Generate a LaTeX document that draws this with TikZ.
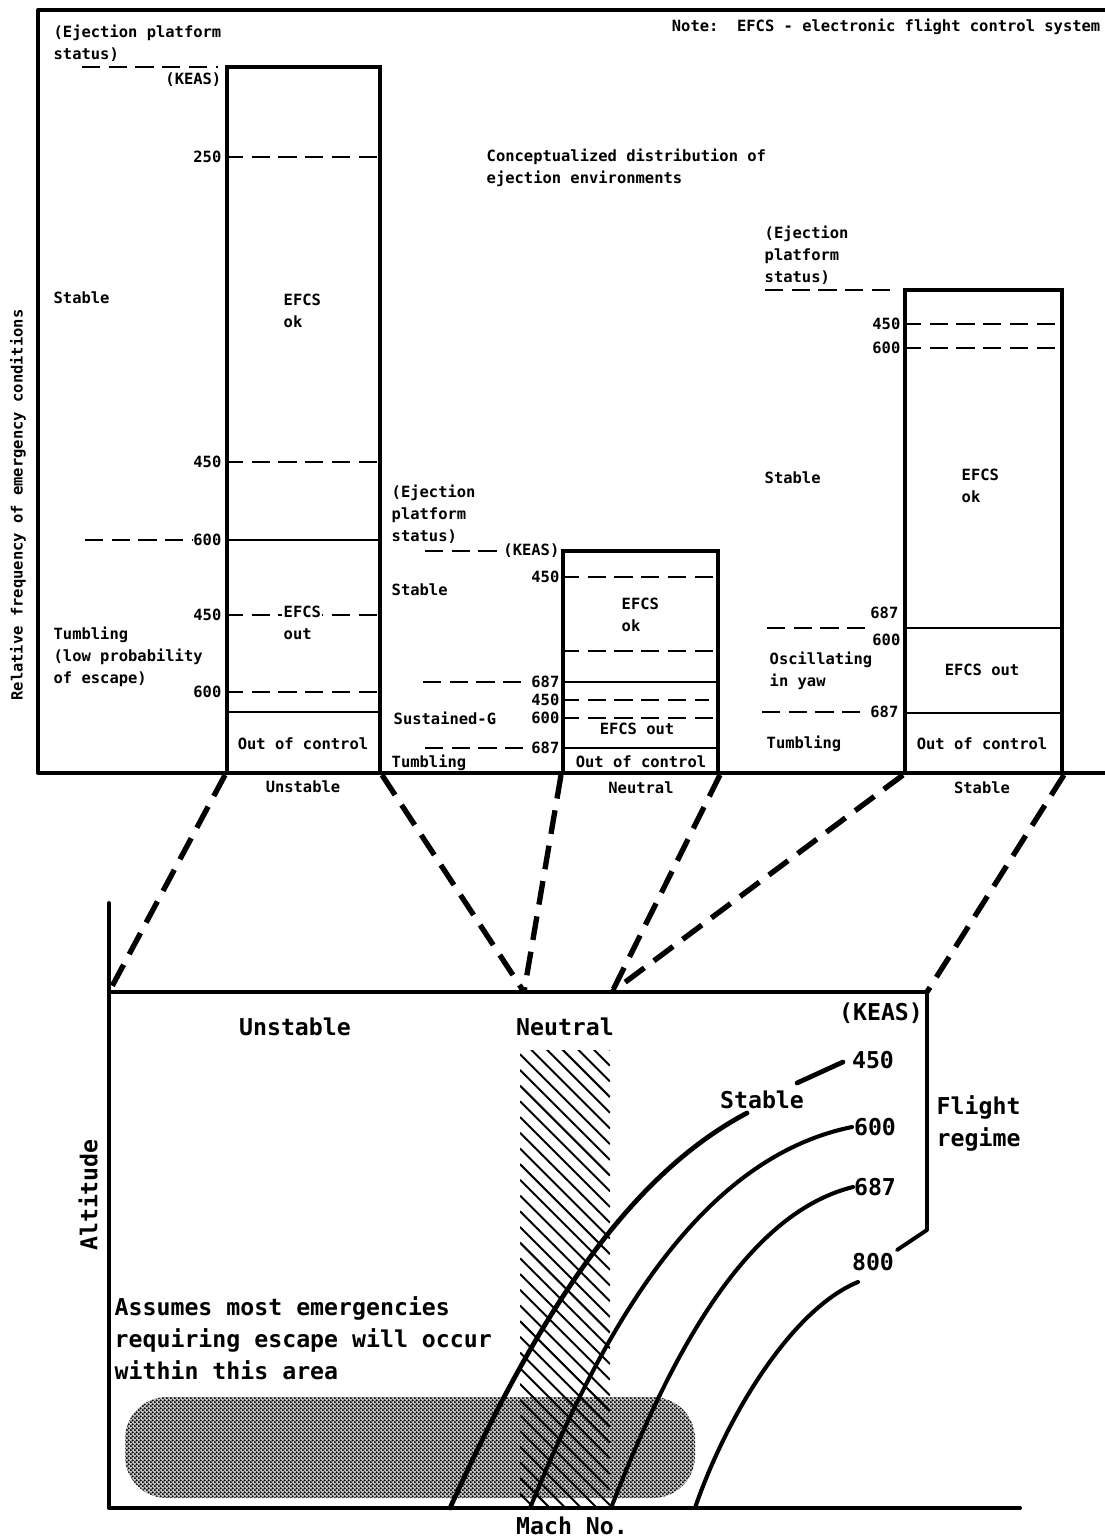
\documentclass[tikz,border=0pt]{standalone}
\usepackage{fontspec}
\setmainfont{DejaVu Sans Mono}
\usepackage{tikz}
\usetikzlibrary{patterns, fit, positioning, calc}
\pgfdeclarepatternformonly{halftone}{\pgfqpoint{0pt}{0pt}}{\pgfqpoint{3pt}{3pt}}{\pgfqpoint{3pt}{3pt}}{%
  \pgfpathcircle{\pgfqpoint{0.75pt}{0.75pt}}{0.95pt}%
  \pgfpathcircle{\pgfqpoint{2.25pt}{2.25pt}}{0.95pt}%
  \pgfusepath{fill}}
\tikzset{
  frame/.style     = {line width=2.8pt, line cap=round, line join=round},
  envbox/.style    = {draw, rectangle, line width=2.8pt, inner sep=0pt},
  split/.style     = {line width=1.9pt},
  splitdash/.style = {split, dash pattern=on 13pt off 6pt},
  lead/.style      = {line width=1.9pt, dash pattern=on 13pt off 6pt},
  link/.style      = {line width=3.8pt, dash pattern=on 17pt off 8.5pt},
  lbl/.style       = {font=\fontsize{11}{15.5}\selectfont\bfseries, inner sep=1pt},
  tag/.style       = {lbl, anchor=east},
  txt/.style       = {lbl, anchor=west, align=left},
  big/.style       = {font=\fontsize{16.5}{22.8}\selectfont\bfseries, inner sep=1pt},
  bigtxt/.style    = {big, anchor=west, align=left},
  curve/.style     = {line width=2.9pt, line cap=round},
  hatch/.style     = {line width=1.4pt},
}
\begin{document}
\begin{tikzpicture}[x=0.025cm, y=-0.025cm]
  \useasboundingbox (0,0) rectangle (1105,1540);

  % upper panel: distribution of ejection environments
  \draw[frame] (1105,10) -- (38,10) -- (38,773) -- (1105,773);
  \node[lbl, rotate=90] (freq) at (18,505) {Relative frequency of emergency conditions};
  \node[tag] (note) at (1102,27) {Note:\ \ EFCS - electronic flight control system};
  \node[txt] (concept) at (485,168) {Conceptualized distribution of\\ejection environments};

  % unstable column
  \coordinate (uTop) at (227,67);
  \coordinate (uBot) at (380,773);
  \node[envbox, fit=(uTop)(uBot)] (unst) {};
  \foreach \yy/\ls in {157/splitdash, 462/splitdash, 540/split, 692/splitdash, 712/split}
    \draw[\ls] (unst.west |- 0,\yy) -- (unst.east |- 0,\yy);
  \draw[splitdash] (unst.west |- 0,615) -- (unst.east |- 0,615);
  \node[txt] (uPlat) at (52,43) {(Ejection platform\\status)};
  \draw[lead] (82,67) -- (218,67);
  \node[tag] (uKeas) at (223,80) {(KEAS)};
  \node[tag] (u250) at (223,157) {250};
  \node[txt] (uStab) at (52,298) {Stable};
  \node[txt] (uOk) at (282,311) {EFCS\\ok};
  \node[tag] (u450a) at (223,462) {450};
  \draw[lead] (85,540) -- (193,540);
  \node[tag] (u600a) at (223,540) {600};
  \node[tag] (u450b) at (223,615) {450};
  \node[txt, fill=white] (uOut) at (282,623) {EFCS\\out};
  \node[txt] (uTumb) at (52,657) {Tumbling\\(low probability\\of escape)};
  \node[tag] (u600b) at (223,692) {600};
  \node[lbl] (uCtrl) at (303,744) {Out of control};
  \node[lbl] (uName) at (303,787) {Unstable};

  % neutral column
  \coordinate (nTop) at (563,551);
  \coordinate (nBot) at (718,773);
  \node[envbox, fit=(nTop)(nBot)] (neut) {};
  \foreach \yy/\ls in {577/splitdash, 651/splitdash, 682/split, 718/splitdash, 748/split}
    \draw[\ls] (neut.west |- 0,\yy) -- (neut.east |- 0,\yy);
  \draw[splitdash] (neut.west |- 0,700) -- (709,700);
  \node[txt] (nPlat) at (390,514) {(Ejection\\platform\\status)};
  \draw[lead] (425,551) -- (502,551);
  \node[tag] (nKeas) at (561,551) {(KEAS)};
  \node[tag] (n450a) at (561,577) {450};
  \node[txt] (nStab) at (390,590) {Stable};
  \node[txt] (nOk) at (620,615) {EFCS\\ok};
  \draw[lead] (423,682) -- (528,682);
  \node[tag] (n687a) at (561,682) {687};
  \node[tag] (n450b) at (561,700) {450};
  \node[txt] (nSust) at (392,718) {Sustained-G};
  \node[tag] (n600) at (561,718) {600};
  \node[lbl] (nOut) at (637,729) {EFCS out};
  \draw[lead] (425,748) -- (528,748);
  \node[tag] (n687b) at (561,748) {687};
  \node[txt] (nTumb) at (390,763) {Tumbling};
  \node[lbl] (nCtrl) at (641,762) {Out of control};
  \node[lbl] (nName) at (641,788) {Neutral};

  % stable column
  \coordinate (sTop) at (905,290);
  \coordinate (sBot) at (1062,773);
  \node[envbox, fit=(sTop)(sBot)] (stab) {};
  \foreach \yy/\ls in {324/splitdash, 348/splitdash, 628/split, 713/split}
    \draw[\ls] (stab.west |- 0,\yy) -- (stab.east |- 0,\yy);
  \node[txt] (sPlat) at (763,255) {(Ejection\\platform\\status)};
  \draw[lead] (765,290) -- (898,290);
  \node[tag] (s450) at (902,324) {450};
  \node[tag] (s600a) at (902,348) {600};
  \node[txt] (sStab) at (763,478) {Stable};
  \node[txt] (sOk) at (960,486) {EFCS\\ok};
  \node[tag] (s687a) at (900,613) {687};
  \draw[lead] (767,628) -- (870,628);
  \node[tag] (s600b) at (902,640) {600};
  \node[txt] (sOsc) at (768,671) {Oscillating\\in yaw};
  \node[lbl] (sOut) at (982,670) {EFCS out};
  \draw[lead] (762,712) -- (863,712);
  \node[tag] (s687b) at (900,712) {687};
  \node[txt] (sTumb) at (765,744) {Tumbling};
  \node[lbl] (sCtrl) at (982,744) {Out of control};
  \node[lbl] (sName) at (982,788) {Stable};

  % lower panel: flight regime
  \coordinate (regTL) at (109,992);
  \coordinate (regTR) at (927,992);
  \coordinate (regBR) at (927,1230);
  \coordinate (regTip) at (897,1250);
  \coordinate (neuA) at (524,992);
  \coordinate (staA) at (612,992);
  \draw[frame] (109,903) -- (109,1508) -- (1020,1508);
  \draw[frame] (regTL) -- (regTR) -- (regBR) -- (regTip);

  % escape area
  \path[fill=black!22, rounded corners=1.05cm] (125,1397) rectangle (695,1498);
  \path[pattern=halftone, rounded corners=1.05cm] (125,1397) rectangle (695,1498);

  % neutral band
  \begin{scope}
    \clip (520,1050) rectangle (610,1508);
    \foreach \k in {0,...,35}
      \draw[hatch] (520,960+\k*15.7) -- ++(90,90);
  \end{scope}

  % KEAS lines
  \draw[curve, line width=3.4pt] (450,1508) .. controls (540,1310) and (630,1175) .. (747,1113);
  \draw[curve, line width=3.4pt] (797,1083) -- (843,1062);
  \draw[curve] (530,1508) .. controls (595,1350) and (690,1160) .. (852,1127);
  \draw[curve] (611,1508) .. controls (665,1370) and (740,1215) .. (853,1187);
  \draw[curve] (695,1508) .. controls (725,1420) and (790,1310) .. (858,1282);

  \node[big] (rKeas) at (881,1013) {(KEAS)};
  \node[big] (rUnst) at (295,1027) {Unstable};
  \node[big] (rNeut) at (565,1027) {Neutral};
  \node[big] (r450) at (873,1060) {450};
  \node[big] (rStab) at (762,1100) {Stable};
  \node[big] (r600) at (875,1127) {600};
  \node[big] (r687) at (875,1187) {687};
  \node[big] (r800) at (873,1262) {800};
  \node[bigtxt] (rFlight) at (935,1123) {Flight\\regime};
  \node[big, rotate=90] (rAlt) at (88,1195) {Altitude};
  \node[bigtxt] (rNote) at (113,1338) {Assumes most emergencies\\requiring escape will occur\\within this area};
  \node[big] (rMach) at (572,1526) {Mach No.};

  % links from columns to regime plot
  \draw[link] (unst.south west) -- (regTL);
  \draw[link] (unst.south east) -- (neuA);
  \draw[link] (neut.south west) -- (neuA);
  \draw[link] (neut.south east) -- (staA);
  \draw[link] (stab.south west) -- (staA);
  \draw[link] (stab.south east) -- (regTR);
\end{tikzpicture}
\end{document}
